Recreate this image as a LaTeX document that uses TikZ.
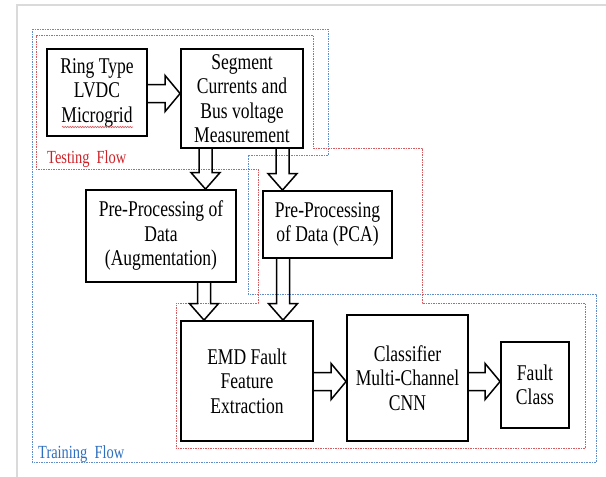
\documentclass[tikz,border=0pt]{standalone}
\usepackage{fontspec}
\setmainfont{Liberation Serif}[FakeStretch=0.78]
\usetikzlibrary{calc,decorations.pathmorphing}
\definecolor{tred}{RGB}{205,35,40}
\definecolor{tblue}{RGB}{45,110,190}
\definecolor{dred}{RGB}{215,90,95}
\definecolor{dblue}{RGB}{95,140,205}
\definecolor{framegrey}{RGB}{218,218,218}
\newcommand\arrdown[3]{\draw[blk] let \p1=(#1.south), \p2=(#2.north) in
  (#3pt-6.5pt,\y1) -- (#3pt-6.5pt,\y2+16.5pt) -- (#3pt-14.5pt,\y2+16.5pt) -- (#3pt,\y2)
  -- (#3pt+14.5pt,\y2+16.5pt) -- (#3pt+6.5pt,\y2+16.5pt) -- (#3pt+6.5pt,\y1);}
\newcommand\arrright[3]{\draw[blk] let \p1=(#1.east), \p2=(#2.west) in
  (\x1,-#3pt+9pt) -- (\x2-15pt,-#3pt+9pt) -- (\x2-15pt,-#3pt+18pt) -- (\x2,-#3pt)
  -- (\x2-15pt,-#3pt-18pt) -- (\x2-15pt,-#3pt-9pt) -- (\x1,-#3pt-9pt);}
\begin{document}
\begin{tikzpicture}[x=1pt,y=1pt,
  box/.style={draw, line width=1.8pt, inner sep=0pt, align=center,
    font=\fontsize{22.5}{24.5}\selectfont, text=black},
  blk/.style={draw, line width=1.5pt, line join=miter},
  dsh/.style={line width=0.9pt, dash pattern=on 1.5pt off 1pt},
  lbl/.style={anchor=base west, inner sep=0pt, font=\fontsize{18.5}{20}\selectfont}]
\useasboundingbox (0,0) rectangle (606,-477);
\draw[framegrey, line width=2pt] (17,-477) -- (17,-5) -- (606,-5);
% flow regions
\draw[dsh, dblue] (32,-29) -- (328,-29) -- (328,-155) -- (248,-155) -- (248,-294)
  -- (596,-294) -- (596,-462) -- (32,-462) -- cycle;
\draw[dsh, dred] (36,-35) -- (313,-35) -- (313,-148) -- (422,-148) -- (422,-303)
  -- (585,-303) -- (585,-448) -- (176,-448) -- (176,-303) -- (258,-303)
  -- (258,-169) -- (36,-169) -- cycle;
% boxes
\node[box, minimum width=100pt, minimum height=87pt] (ring) at (97,-92.5) {Ring Type\\LVDC\\Microgrid};
\node[box, minimum width=122pt, minimum height=99pt] (seg) at (242,-98.5) {Segment\\Currents and\\Bus voltage\\Measurement};
\node[box, minimum width=150pt, minimum height=92pt] (aug) at (161,-236) {Pre-Processing of\\Data\\(Augmentation)};
\node[box, minimum width=129pt, minimum height=67pt] (pca) at (327.5,-224.5) {Pre-Processing\\of Data (PCA)};
\node[box, minimum width=132pt, minimum height=120pt] (emd) at (247,-381) {EMD Fault\\Feature\\Extraction};
\node[box, minimum width=121pt, minimum height=126pt] (cls) at (407.5,-378) {Classifier\\Multi-Channel\\CNN};
\node[box, minimum width=68pt, minimum height=86pt] (flt) at (535,-385) {Fault\\Class};
% spell-check squiggle under Microgrid
\draw[dred, line width=0.6pt, decorate, decoration={snake, amplitude=0.7pt, segment length=2.5pt}]
  ($(ring.center)+(-35,-34.5)$) -- ($(ring.center)+(36,-34.5)$);
% labels
\node[lbl, text=tred] (testlbl) at (47,-163) {Testing~~Flow};
\node[lbl, text=tblue] (trainlbl) at (38,-458) {Training~~Flow};
% block arrows
\arrright{ring}{seg}{93.5}
\arrdown{seg}{aug}{205.5}
\arrdown{seg}{pca}{282.5}
\arrdown{aug}{emd}{204}
\arrdown{pca}{emd}{283}
\arrright{emd}{cls}{381.5}
\arrright{cls}{flt}{381.5}
\end{tikzpicture}
\end{document}
